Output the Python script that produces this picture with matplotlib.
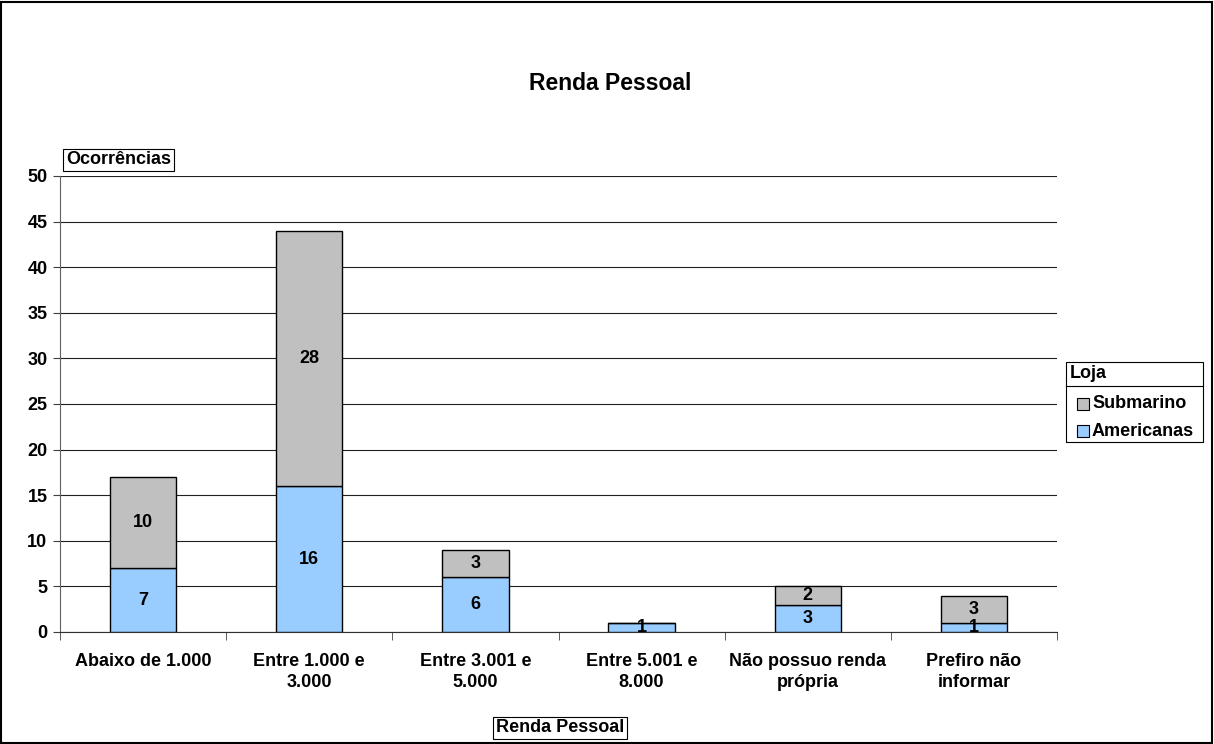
import matplotlib
matplotlib.use("Agg")
import matplotlib.pyplot as plt
from matplotlib.patches import Rectangle
import numpy as np

plt.rcParams['font.family'] = ['Liberation Sans', 'DejaVu Sans']
plt.rcParams['font.weight'] = 'bold'

categories = ["Abaixo de 1.000", "Entre 1.000 e\n3.000", "Entre 3.001 e\n5.000",
              "Entre 5.001 e\n8.000", "Não possuo renda\nprópria", "Prefiro não\ninformar"]
americanas = [7, 16, 6, 1, 3, 1]
submarino = [10, 28, 3, 0, 2, 3]
yticks = [0, 5, 10, 15, 20, 25, 30, 35, 40, 45, 50]

c_am = "#99CCFF"
c_sub = "#C0C0C0"
FS = 13

W, H = 1214, 744
fig = plt.figure(figsize=(W / 100, H / 100), dpi=100)
fig.patches.append(Rectangle((1 / W, 1 / H), 1 - 3 / W, 1 - 3 / H, transform=fig.transFigure,
                             fill=False, edgecolor="black", linewidth=1.5))

ax = fig.add_axes([60 / W, (H - 632) / H, 997 / W, 456 / H])
x = np.arange(len(categories))
width = 0.4

ax.bar(x, americanas, width, color=c_am, edgecolor="black", linewidth=1, zorder=3)
ax.bar(x, submarino, width, bottom=americanas, color=c_sub, edgecolor="black", linewidth=1, zorder=3)

for xi, a, s in zip(x, americanas, submarino):
    if a:
        ax.text(xi, a / 2, str(a), ha="center", va="center", fontsize=FS, fontweight="bold", zorder=4)
    if s:
        ax.text(xi, a + s / 2, str(s), ha="center", va="center", fontsize=FS, fontweight="bold", zorder=4)

ax.set_xlim(-0.5, len(categories) - 0.5)
ax.set_ylim(0, 50)
ax.set_yticks(yticks)
ax.set_yticklabels([str(t) for t in yticks], fontsize=FS, fontweight="bold")
ax.set_xticks(x)
ax.set_xticklabels(categories, fontsize=FS, fontweight="bold", linespacing=1.3)
ax.set_xticks(np.arange(-0.5, len(categories)), minor=True)
ax.tick_params(axis="x", which="major", length=0, pad=15)
ax.tick_params(axis="x", which="minor", length=6, direction="out", color="#404040")
ax.tick_params(axis="y", length=5, direction="out", color="#404040", pad=4)
ax.grid(axis="y", color="#202020", linewidth=0.8, zorder=0)
for side in ("top", "right"):
    ax.spines[side].set_visible(False)
ax.spines["left"].set_color("#606060")
ax.spines["bottom"].set_color("#303030")

fig.text(610 / W, 1 - 84 / H, "Renda Pessoal", ha="center", va="center", fontsize=16.5, fontweight="bold")

# Axis titles in boxes
fig.text(66 / W, 1 - 160 / H, "Ocorrências", ha="left", va="center", fontsize=FS, fontweight="bold",
         bbox=dict(boxstyle="square,pad=0.15", facecolor="white", edgecolor="black", linewidth=0.8))
fig.text(560 / W, 1 - 728 / H, "Renda Pessoal", ha="center", va="center", fontsize=FS, fontweight="bold",
         bbox=dict(boxstyle="square,pad=0.15", facecolor="white", edgecolor="black", linewidth=0.8))

# Legend box
lx0, lx1, ly0, ly1 = 1066, 1203, 362, 442
fig.patches.append(Rectangle((lx0 / W, 1 - ly1 / H), (lx1 - lx0) / W, (ly1 - ly0) / H,
                             transform=fig.transFigure, fill=True, facecolor="white",
                             edgecolor="black", linewidth=0.8))
fig.add_artist(plt.Line2D([lx0 / W, lx1 / W], [1 - 386 / H, 1 - 386 / H], transform=fig.transFigure,
                          color="black", linewidth=0.8))
fig.text(1070 / W, 1 - 374 / H, "Loja", ha="left", va="center", fontsize=FS, fontweight="bold")
for label, col, yy in [("Submarino", c_sub, 404), ("Americanas", c_am, 431)]:
    fig.patches.append(Rectangle((1077 / W, 1 - (yy + 6) / H), 12 / W, 12 / H, transform=fig.transFigure,
                                 facecolor=col, edgecolor="black", linewidth=0.8))
    fig.text(1092 / W, 1 - yy / H, label, ha="left", va="center", fontsize=FS, fontweight="bold")

fig.savefig("out.png", dpi=100)
